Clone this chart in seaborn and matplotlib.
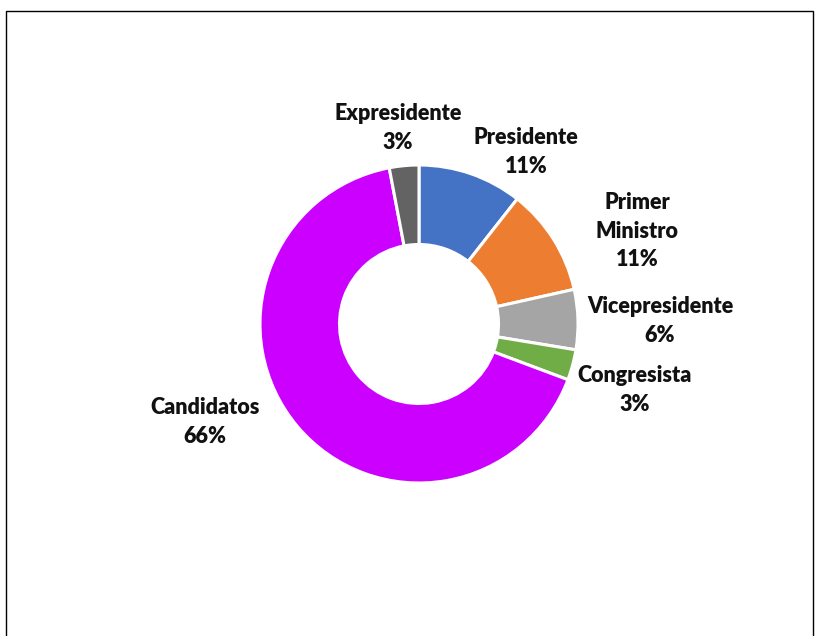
import matplotlib
matplotlib.use("Agg")
import matplotlib.pyplot as plt
import seaborn as sns
from matplotlib.patches import Rectangle

sns.set_theme(style="white")
plt.rcParams['font.family'] = ['Lato', 'DejaVu Sans']

categories = ["Presidente", "Primer\nMinistro", "Vicepresidente", "Congresista", "Candidatos", "Expresidente"]
values = [10.6, 10.9, 6.1, 3.1, 66.3, 3.0]
pct_labels = ["11%", "11%", "6%", "3%", "66%", "3%"]
colors = ["#4472C4", "#ED7D31", "#A5A5A5", "#70AD47", "#CC00FF", "#636363"]

W, H = 815, 636
fig = plt.figure(figsize=(W / 100, H / 100), dpi=100)
cx, cy, r = 419, 324, 159
ax = fig.add_axes([(cx - r) / W, (H - cy - r) / H, 2 * r / W, 2 * r / H])

ax.pie(values, colors=colors, startangle=90, counterclock=False, radius=1.0,
       wedgeprops=dict(width=0.5, edgecolor="white", linewidth=2.2))
ax.set_xlim(-1, 1)
ax.set_ylim(-1, 1)
ax.set_aspect("equal")
ax.axis("off")

# label centers in pixels (layout)
label_pos = [(526, 152), (637, 231), (660, 321), (635, 390), (205, 422), (398, 128)]
for cat, pl, (px, py) in zip(categories, pct_labels, label_pos):
    fig.text(px / W, 1 - py / H, f"{cat}\n{pl}", ha="center", va="center",
             fontsize=15.5, fontweight="heavy", color="#111111", linespacing=1.45)

frame = Rectangle((6 / W, -0.05), (813 - 6) / W, 1.05 - 11 / H, transform=fig.transFigure,
                  fill=False, edgecolor="black", linewidth=1.0)
fig.patches.append(frame)

fig.savefig("out.png", dpi=100, facecolor="white")
